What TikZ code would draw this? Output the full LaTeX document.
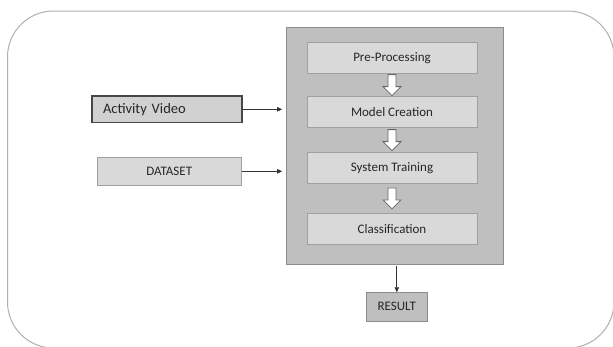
\documentclass[tikz,border=0pt]{standalone}
\usepackage{fontspec}
\setmainfont{Carlito}
\usetikzlibrary{arrows.meta,calc}
\definecolor{framegray}{HTML}{B0B0B0}
\definecolor{panelfill}{HTML}{BFBFBF}
\definecolor{paneledge}{HTML}{8C8C8C}
\definecolor{boxfill}{HTML}{D9D9D9}
\definecolor{boxedge}{HTML}{A0A0A0}
\definecolor{inkgray}{HTML}{262626}
\tikzset{
  frame/.style={draw=framegray, line width=1pt, rounded corners=46pt},
  panel/.style={draw=paneledge, fill=panelfill, line width=0.8pt, inner sep=0pt},
  stepbox/.style={draw=boxedge, fill=boxfill, line width=0.8pt, inner sep=0pt,
    minimum width=170pt, minimum height=30.8pt, text=inkgray,
    font=\fontsize{13}{15}\selectfont},
  inbox/.style={draw=boxedge, fill=boxfill, line width=0.8pt, inner sep=0pt,
    text=inkgray, font=\fontsize{13}{15}\selectfont},
  videobox/.style={draw=black!72, fill=black!18, line width=1.4pt, inner sep=0pt,
    text=inkgray, font=\fontsize{14.5}{16}\selectfont},
  resultbox/.style={draw=paneledge, fill=panelfill, line width=0.8pt, inner sep=0pt,
    text=inkgray, font=\fontsize{13}{15}\selectfont},
  feed/.style={draw=black!80, line width=0.7pt, -{Triangle[length=5pt,width=4.5pt]}},
  hollowarrow/.style={draw=black!60, fill=white, line width=0.8pt, line join=miter},
  hollow/.pic={
    \path[hollowarrow] (-4,-10.5) -- (4,-10.5) -- (4,1.5) -- (9,1.5) -- (0,10.5)
      -- (-9,1.5) -- (-4,1.5) -- cycle;
  }
}
\begin{document}
\begin{tikzpicture}[x=1pt,y=-1pt]
\useasboundingbox (0,0) rectangle (613,346);
% outer rounded frame, running just past the right and bottom edges
\draw[frame] (7.5,11) rectangle (614,348);

% processing panel and its stages
\node[panel, minimum width=217pt, minimum height=236.7pt] (panel) at (394.5,145.7) {};
\node[stepbox] (pre)   at (392,58)    {Pre-Processing};
\node[stepbox] (model) at (392,112.2) {Model Creation};
\node[stepbox] (train) at (392,168)   {System Training};
\node[stepbox] (class) at (392,228.8) {Classification};

\pic at ($(pre.south)!0.5!(model.north)$) {hollow};
\pic at ($(model.south)!0.5!(train.north)$) {hollow};
\pic at ($(train.south)!0.5!(class.north)$) {hollow};

% inputs
\node[videobox, minimum width=150pt, minimum height=26.7pt,
      text width=128pt, align=left, inner xsep=11pt] (video) at (167,109.3) {Activity Video};
\node[inbox, minimum width=144.5pt, minimum height=28pt] (data) at (169.2,171.3) {DATASET};

% output
\node[resultbox, minimum width=61pt, minimum height=28.3pt] (result) at (396.8,306.8) {RESULT};

% connectors
\draw[feed, shorten >=3.5pt] (video.east) -- (video.east -| panel.west);
\draw[feed, shorten >=3.5pt] (data.east) -- (data.east -| panel.west);
\draw[feed, shorten <=1.5pt] (panel.south -| result.north) -- (result.north);
\end{tikzpicture}
\end{document}
